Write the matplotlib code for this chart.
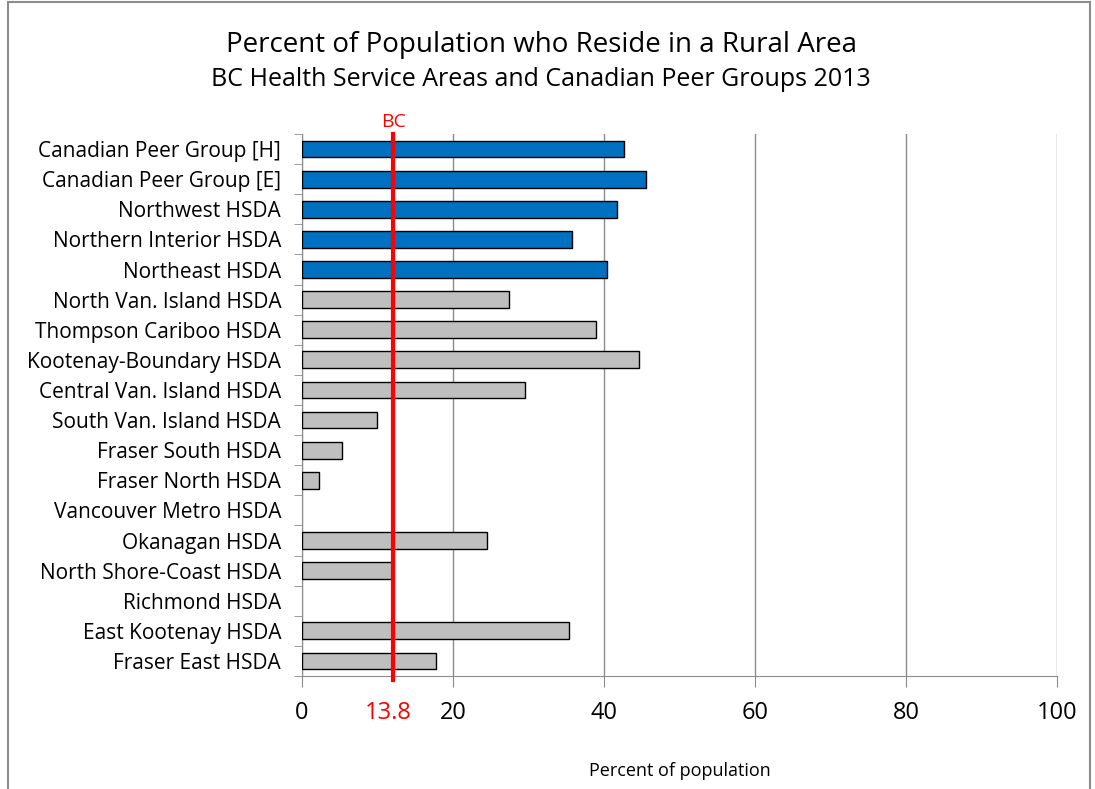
#
# plot.py - percent of population living in rural areas, BC HSDAs vs peer groups
#
import matplotlib.pyplot as plt
from matplotlib.patches import Rectangle

plt.rcParams['font.family'] = ['Open Sans', 'DejaVu Sans']

# categories top to bottom
areas = ["Canadian Peer Group [H]", "Canadian Peer Group [E]", "Northwest HSDA",
         "Northern Interior HSDA", "Northeast HSDA", "North Van. Island HSDA",
         "Thompson Cariboo HSDA", "Kootenay-Boundary HSDA", "Central Van. Island HSDA",
         "South Van. Island HSDA", "Fraser South HSDA", "Fraser North HSDA",
         "Vancouver Metro HSDA", "Okanagan HSDA", "North Shore-Coast HSDA",
         "Richmond HSDA", "East Kootenay HSDA", "Fraser East HSDA"]
# percent rural
rural_pct = [42.6, 45.5, 41.7, 35.8, 40.4, 27.4, 39.0, 44.7, 29.5,
             9.9, 5.3, 2.2, 0.0, 24.5, 11.9, 0.0, 35.4, 17.7]
# first five rows are the northern / peer group bars (blue)
highlighted = [True] * 5 + [False] * 13

bc_label = "13.8"
bc_line_x = 12.1   # where the BC line sits on the original chart
x_ticks = [0, 20, 40, 60, 80, 100]

fig = plt.figure(figsize=(10.95, 7.89), dpi=100)
ax = fig.add_axes([302 / 1095, 1 - 676 / 789, 755 / 1095, 542 / 789])

# gray frame round the whole chart
fig.patches.append(Rectangle((8 / 1095, -0.05), (1090 - 8) / 1095, 1.05 - 2 / 789,
                             transform=fig.transFigure, fill=False,
                             edgecolor='#8c8c8c', linewidth=1.5))

ypos = list(range(len(areas)))
colors = ['#0070C0' if h else '#BFBFBF' for h in highlighted]
edge_w = [1 if v > 0 else 0 for v in rural_pct]   # no sliver for empty bars
ax.barh(ypos, rural_pct, height=0.56, color=colors, edgecolor='black',
        linewidth=edge_w, zorder=3)

ax.set_xlim(0, 100)
ax.set_ylim(len(areas) - 0.5, -0.5)

# category labels with ticks between the rows
ax.set_yticks(ypos)
ax.set_yticklabels(areas, fontsize=15)
ax.set_yticks([i - 0.5 for i in range(len(areas) + 1)], minor=True)
ax.tick_params(axis='y', which='major', length=0, pad=15)
ax.tick_params(axis='y', which='minor', length=6, color='#8c8c8c', direction='out')

ax.set_xticks(x_ticks)
ax.set_xticklabels([str(t) for t in x_ticks], fontsize=17)
ax.tick_params(axis='x', length=8, color='#8c8c8c', direction='out', pad=10)
ax.grid(axis='x', color='#8c8c8c', linewidth=1, zorder=0)

for side in ['top', 'right']:
    ax.spines[side].set_visible(False)
for side in ['left', 'bottom']:
    ax.spines[side].set_color('#8c8c8c')

# BC reference line
ax.axvline(bc_line_x, ymin=-0.008, ymax=1.0, color='red', linewidth=3, zorder=4, clip_on=False)
ax.annotate("BC", xy=(bc_line_x, 1), xycoords=('data', 'axes fraction'),
            xytext=(0, 2), textcoords='offset points',
            color='red', fontsize=14, ha='center', va='bottom')
ax.annotate(bc_label, xy=(bc_line_x, 0), xycoords=('data', 'axes fraction'),
            xytext=(-4, -18), textcoords='offset points',
            color='red', fontsize=17, ha='center', va='top')

ax.set_xlabel("Percent of population", fontsize=13, labelpad=27)

fig.text(541 / 1095, 1 - 45 / 789, "Percent of Population who Reside in a Rural Area",
         fontsize=20, ha='center', va='center')
fig.text(541 / 1095, 1 - 80 / 789, "BC Health Service Areas and Canadian Peer Groups 2013",
         fontsize=18, ha='center', va='center')

fig.savefig('out.png', dpi=100)
